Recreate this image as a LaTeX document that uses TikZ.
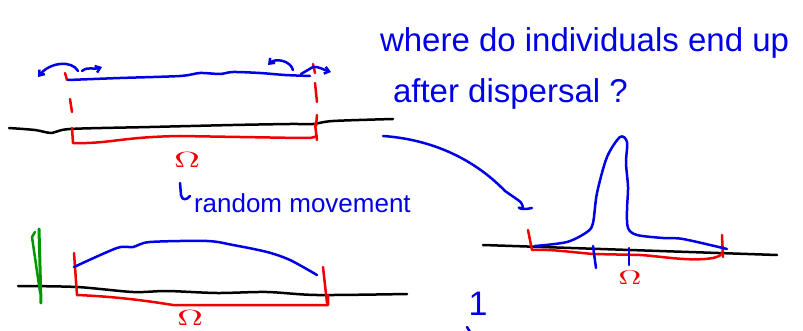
\documentclass[tikz,border=0pt]{standalone}
\usepackage{fontspec}
\setmainfont{Liberation Sans}
\usetikzlibrary{arrows.meta}
\definecolor{pblue}{RGB}{0,0,230}
\definecolor{pred}{RGB}{240,0,0}
\definecolor{pgreen}{RGB}{0,150,0}
\begin{document}
\begin{tikzpicture}[x=1pt,y=-1pt,line cap=round,line join=round,
  pen/.style={line width=2.5pt},
  bluepen/.style={pen,draw=pblue},
  redpen/.style={pen,draw=pred},
  blackpen/.style={pen,draw=black},
  greenpen/.style={draw=pgreen,line width=3pt},
  tip/.style={-{Straight Barb[length=4.5pt,width=7pt]}},
  hand/.style={text=pblue,inner sep=0pt,outer sep=0pt},
  omega/.style={text=pred,inner sep=0pt,outer sep=0pt}]
\useasboundingbox (0,0) rectangle (803,331);

% ---------- question text ----------
\node[hand,anchor=base west,font=\fontsize{33}{36}\selectfont] (q1) at (380,52) {where do individuals end up};
\node[hand,anchor=base west,font=\fontsize{33}{36}\selectfont] (q2) at (393,103) {after dispersal ?};

% ---------- top-left panel ----------
\draw[blackpen] plot[smooth,tension=0.5] coordinates {(9,128) (35,130) (52,133) (70,129) (150,127) (233,125) (290,124) (313,124) (333,121) (393,119)};
\draw[redpen] (72,128) -- (73,143) .. controls (110,144) and (120,137) .. (180,136) -- (300,138) .. controls (312,138) .. (317,136);
\draw[redpen] (315,124) -- (317,140);
% dashed red limits
\draw[redpen] (65,73) -- (67,80);
\draw[redpen] (70,99) -- (72,112);
\draw[redpen] (313,64) -- (315,73);
\draw[redpen] (315,83) -- (317,102);
\draw[redpen] (317,115) -- (316,126);
% blue density
\draw[bluepen] plot[smooth,tension=0.5] coordinates {(68,80) (120,78) (180,76) (200,73) (220,74) (233,72) (260,73) (285,75) (310,76)};
% movement arrows
\draw[bluepen,tip] (78,71) .. controls (72,60) and (50,62) .. (38,77);
\draw[bluepen,tip] (82,71) .. controls (88,66) and (94,70) .. (102,67);
\draw[bluepen,tip] (293,70) .. controls (290,60) and (275,58) .. (268,65);
\draw[bluepen,tip] (301,74) -- (313,67) .. controls (318,66) and (324,70) .. (331,72);
\node[omega] (om1) at (187,160) {\scalebox{3.6}[2.2]{$\Omega$}};

% ---------- random movement ----------
\node[hand,anchor=base west,font=\fontsize{26}{28}\selectfont] (rm) at (194,212) {random movement};
\draw[bluepen] (180,183) -- (181,195) .. controls (182,201) and (187,200) .. (190,196);

% ---------- bottom-left panel ----------
\draw[blackpen] plot[smooth,tension=0.5] coordinates {(18,286) (77,287) (133,292) (167,291) (217,293) (267,292) (317,295) (407,294)};
\draw[redpen] (74,253) -- (77,295) .. controls (100,296) and (130,298) .. (173,305) -- (328,305) -- (328,295);
\draw[redpen] (323,267) -- (327,303);
\draw[bluepen] plot[smooth,tension=0.5] coordinates {(74,267) (117,248) (133,247) (150,242) (207,241) (233,245) (267,252) (290,260) (317,275)};
\draw[greenpen] (39,229) -- (41,303);
\draw[pgreen,line width=2.5pt] (35,232) -- (32,237) -- (40,292);
\node[omega] (om2) at (190,318) {\scalebox{3.6}[2.2]{$\Omega$}};

% ---------- right panel ----------
\coordinate (cs) at (383,136);
\coordinate (ce) at (518,200);
\draw[bluepen] (cs) .. controls (440,140) and (480,165) .. (505,191) -- (ce) .. controls (524,204) and (524,210) .. (520,208) .. controls (517,206) and (519,211) .. (532,208);
\draw[blackpen] (483,245) -- (777,255);
\draw[redpen] (528,230) -- (532,250) .. controls (550,249) and (570,252) .. (593,254) -- (640,255) .. controls (660,256) and (690,262) .. (713,258) .. controls (720,256) .. (723,252);
\draw[redpen] (722,235) -- (723,257);
\draw[bluepen] plot[smooth,tension=0.5] coordinates {(535,246) (567,242) (587,232) (593,223) (597,193) (607,157) (620,137) (627,142) (626,163) (628,187) (627,210) (628,228) (637,235) (663,238) (683,239) (727,249)};
\draw[bluepen] (593,246) -- (596,268);
\draw[bluepen] (629,248) -- (629,265);
\node[omega] (om3) at (630,278) {\scalebox{3.2}[2]{$\Omega$}};

% ---------- small marks ----------
\node[hand,font=\fontsize{34}{36}\selectfont] (one) at (478,304) {1};
\draw[bluepen] (467,327) -- (470,332);
\end{tikzpicture}
\end{document}
